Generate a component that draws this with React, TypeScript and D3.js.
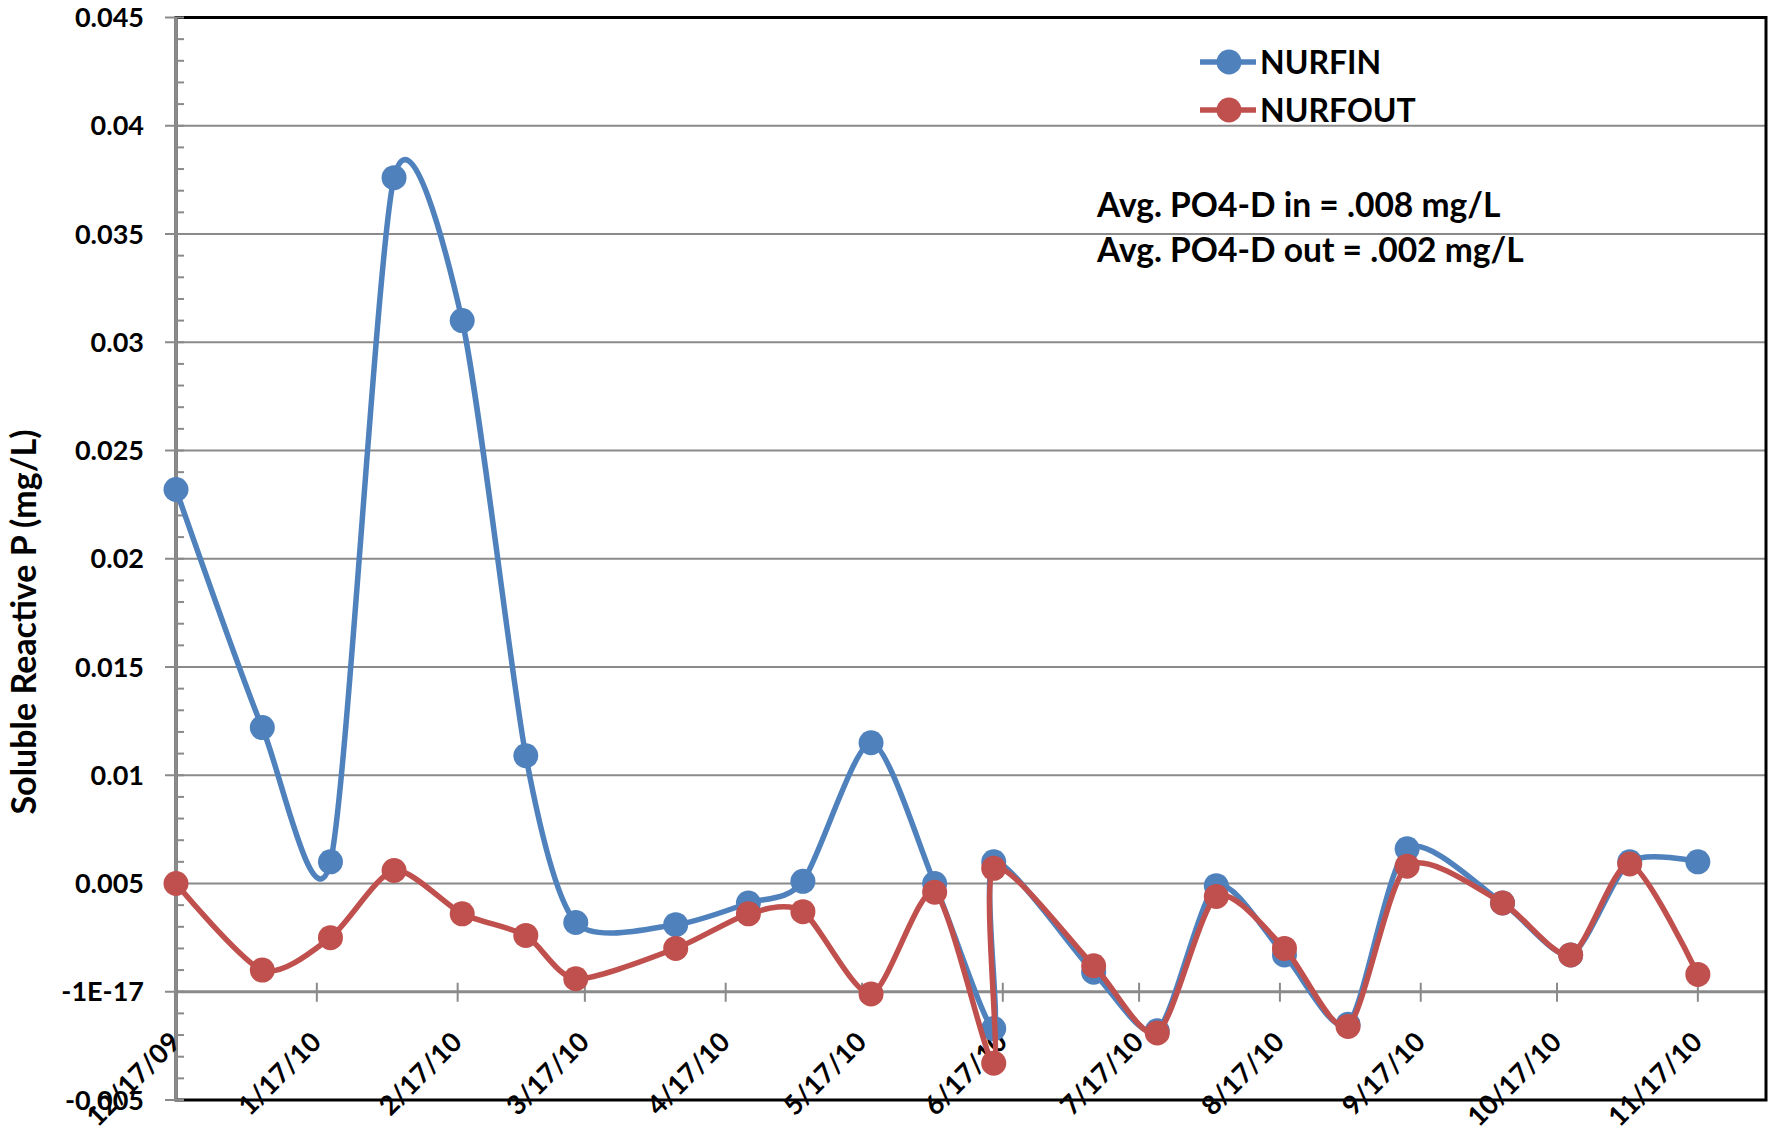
import React, { useEffect, useRef } from "react";
import * as d3 from "d3";

const sampleDates = [
  "12/17/09", "1/5/10", "1/20/10", "2/3/10", "2/18/10", "3/4/10", "3/15/10",
  "4/6/10", "4/22/10", "5/4/10", "5/19/10", "6/2/10", "6/15/10", "6/15/10",
  "7/7/10", "7/21/10", "8/3/10", "8/18/10", "9/1/10", "9/14/10", "10/5/10",
  "10/20/10", "11/2/10", "11/17/10",
];
const nurfin = [
  0.0232, 0.0122, 0.006, 0.0376, 0.031, 0.0109, 0.0032, 0.0031, 0.0041,
  0.0051, 0.0115, 0.005, -0.0017, 0.006, 0.0009, -0.0018, 0.0049, 0.0017,
  -0.0015, 0.0066, 0.0041, 0.0017, 0.006, 0.006,
];
const nurfout = [
  0.005, 0.001, 0.0025, 0.0056, 0.0036, 0.0026, 0.0006, 0.002, 0.0036,
  0.0037, -0.0001, 0.0046, -0.0033, 0.0057, 0.0012, -0.0019, 0.0044, 0.002,
  -0.0016, 0.0058, 0.0041, 0.0017, 0.0059, 0.0008,
];
const seriesNames = ["NURFIN", "NURFOUT"];
const seriesColors = ["#4F81BD", "#C0504D"];

const yTickValues = [0.045, 0.04, 0.035, 0.03, 0.025, 0.02, 0.015, 0.01, 0.005, 0, -0.005];
const yTickLabels = ["0.045", "0.04", "0.035", "0.03", "0.025", "0.02", "0.015", "0.01", "0.005", "-1E-17", "-0.005"];
const xTickLabels = [
  "12/17/09", "1/17/10", "2/17/10", "3/17/10", "4/17/10", "5/17/10",
  "6/17/10", "7/17/10", "8/17/10", "9/17/10", "10/17/10", "11/17/10",
];
const xDomain = ["12/17/09", "12/2/10"];
const yTitle = "Soluble Reactive P (mg/L)";
const notes = ["Avg. PO4-D in = .008 mg/L", "Avg. PO4-D out = .002 mg/L"];

const W = 1777;
const H = 1133;
const FONT = "Lato, 'Open Sans', sans-serif";

export default function App() {
  const ref = useRef<SVGSVGElement>(null);

  useEffect(() => {
    const svg = d3.select(ref.current);
    svg.selectAll("*").remove();

    const parse = d3.timeParse("%m/%d/%y");
    const left = 176, right = 1766, top = 17.5, bottom = 1100;

    const x = d3.scaleTime()
      .domain(xDomain.map(s => parse(s) as Date))
      .range([left, right]);
    const y = d3.scaleLinear().domain([-0.005, 0.045]).range([bottom, top]);

    svg.append("rect").attr("width", W).attr("height", H).attr("fill", "#fff");

    // gridlines
    svg.append("g").selectAll("line")
      .data(yTickValues.filter(v => v > -0.005 && v < 0.045))
      .enter().append("line")
      .attr("x1", left).attr("x2", right)
      .attr("y1", d => y(d)).attr("y2", d => y(d))
      .attr("stroke", "#8a8a8a").attr("stroke-width", d => (d === 0 ? 3 : 2));

    // plot border
    svg.append("rect")
      .attr("x", left).attr("y", top)
      .attr("width", right - left).attr("height", bottom - top)
      .attr("fill", "none").attr("stroke", "#000").attr("stroke-width", 3);

    // y axis line + ticks
    svg.append("line")
      .attr("x1", left).attr("x2", left).attr("y1", top).attr("y2", bottom)
      .attr("stroke", "#8a8a8a").attr("stroke-width", 3);
    const minor = d3.range(-0.005, 0.0451, 0.001);
    svg.append("g").selectAll("line")
      .data(minor)
      .enter().append("line")
      .attr("x1", left).attr("x2", left + 8)
      .attr("y1", d => y(d)).attr("y2", d => y(d))
      .attr("stroke", "#8a8a8a").attr("stroke-width", 2);
    svg.append("g").selectAll("line")
      .data(yTickValues)
      .enter().append("line")
      .attr("x1", left - 11).attr("x2", left)
      .attr("y1", d => y(d)).attr("y2", d => y(d))
      .attr("stroke", "#8a8a8a").attr("stroke-width", 2);

    svg.append("g").selectAll("text")
      .data(yTickValues)
      .enter().append("text")
      .attr("x", left - 32)
      .attr("y", d => y(d))
      .attr("dy", "0.36em")
      .attr("text-anchor", "end")
      .attr("font-family", FONT).attr("font-weight", 700).attr("font-size", 27)
      .text((d, i) => yTickLabels[i]);

    // x axis ticks on the zero line
    const xTicks = xTickLabels.map(s => parse(s) as Date);
    svg.append("g").selectAll("line")
      .data(xTicks.slice(1))
      .enter().append("line")
      .attr("x1", d => x(d)).attr("x2", d => x(d))
      .attr("y1", y(0) - 9).attr("y2", y(0) + 10)
      .attr("stroke", "#8a8a8a").attr("stroke-width", 2);

    svg.append("g").selectAll("text")
      .data(xTicks)
      .enter().append("text")
      .attr("transform", d => `translate(${x(d) + 6},${y(0) + 52}) rotate(-45)`)
      .attr("text-anchor", "end")
      .attr("font-family", FONT).attr("font-weight", 700).attr("font-size", 27)
      .text((d, i) => xTickLabels[i]);

    // y title
    svg.append("text")
      .attr("transform", `translate(36,622) rotate(-90)`)
      .attr("text-anchor", "middle")
      .attr("font-family", FONT).attr("font-weight", 700).attr("font-size", 34)
      .text(yTitle);

    // series
    const dates = sampleDates.map(s => parse(s) as Date);
    const line = d3.line<[Date, number]>()
      .x(d => x(d[0]))
      .y(d => y(d[1]))
      .curve(d3.curveCardinal.tension(0.25));

    [nurfin, nurfout].forEach((vals, si) => {
      const pts: [Date, number][] = vals.map((v, i) => [dates[i], v]);
      const g = svg.append("g");
      g.append("path")
        .attr("d", line(pts))
        .attr("fill", "none")
        .attr("stroke", seriesColors[si])
        .attr("stroke-width", 5.5)
        .attr("stroke-linejoin", "round");
      g.selectAll("circle")
        .data(pts)
        .enter().append("circle")
        .attr("cx", d => x(d[0]))
        .attr("cy", d => y(d[1]))
        .attr("r", 12.5)
        .attr("fill", seriesColors[si]);
    });

    // legend
    const lg = svg.append("g");
    seriesNames.forEach((name, i) => {
      const ly = 62 + i * 48;
      lg.append("line")
        .attr("x1", 1200).attr("x2", 1256).attr("y1", ly).attr("y2", ly)
        .attr("stroke", seriesColors[i]).attr("stroke-width", 5.5);
      lg.append("circle").attr("cx", 1229).attr("cy", ly).attr("r", 12.5)
        .attr("fill", seriesColors[i]);
      lg.append("text")
        .attr("x", 1260).attr("y", ly + 11.5)
        .attr("font-family", FONT).attr("font-weight", 700).attr("font-size", 32)
        .text(name);
    });

    // notes
    notes.forEach((t, i) => {
      svg.append("text")
        .attr("x", 1097).attr("y", 217 + i * 45)
        .attr("font-family", FONT).attr("font-weight", 700).attr("font-size", 33.6)
        .text(t);
    });
  }, []);

  return (
    <svg
      ref={ref}
      width={W}
      height={H}
      style={{ position: "absolute", left: 0, top: 0, display: "block" }}
    />
  );
}
